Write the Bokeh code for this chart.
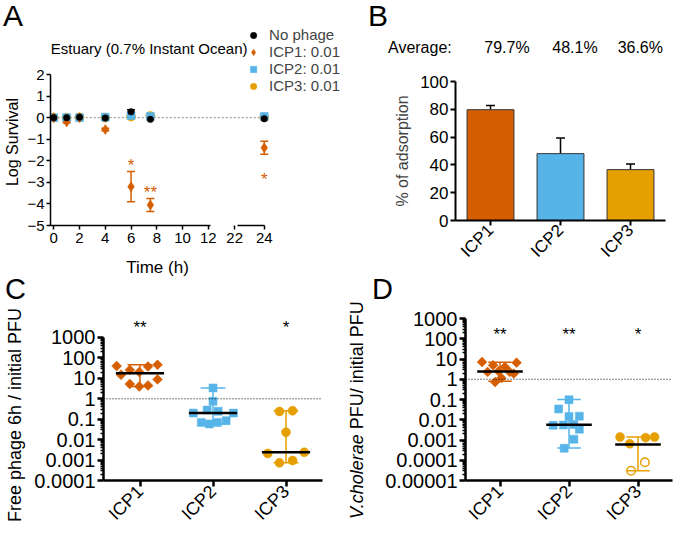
import math
from bokeh.plotting import figure
from bokeh.layouts import column, row
from bokeh.models import (ColumnDataSource, Range1d, FactorRange, FixedTicker,
                          CustomJSTickFormatter, Label, Legend, LegendItem, Span,
                          Whisker, TeeHead, Div)
from bokeh.core.properties import value
from bokeh.embed import file_html
from bokeh.resources import INLINE

FONT = "Liberation Sans"
COL_NOPHAGE = "#000000"
COL_ICP1 = "#D55E00"
COL_ICP2 = "#56B4E9"
COL_ICP3 = "#E69F00"

# ---------------- Panel A data: log survival over time ----------------
a_time = [0, 1, 2, 4, 6, 7.5, 24]
a_nophage = [0.0, 0.0, 0.02, -0.02, 0.27, -0.08, -0.05]
a_nophage_err = [0.0, 0.0, 0.0, 0.0, 0.1, 0.0, 0.0]
a_icp1 = [0.0, -0.2, 0.0, -0.55, -3.2, -4.05, -1.4]
a_icp1_err = [0.0, 0.05, 0.0, 0.06, 0.7, 0.3, 0.3]
a_icp2 = [0.0, 0.0, 0.0, 0.02, 0.1, 0.05, 0.05]
a_icp3 = [0.0, 0.0, 0.02, 0.0, 0.05, 0.08, 0.02]
a_legend_labels = ["No phage", "ICP1: 0.01", "ICP2: 0.01", "ICP3: 0.01"]
a_star_time = [6, 7.5, 24]
a_star_text = ["*", "**", "*"]
a_star_ypos = [-2.2, -3.45, -2.85]
a_xticks_early = [0, 2, 4, 6, 8, 10, 12]
a_xticks_late = [22, 24]
a_yticks = [-5, -4, -3, -2, -1, 0, 1, 2]

# ---------------- Panel B data: adsorption ----------------
b_phages = ["ICP1", "ICP2", "ICP3"]
b_mean = [79.7, 48.1, 36.6]
b_upper = [82.7, 59.3, 40.6]
b_avg_text = ["79.7%", "48.1%", "36.6%"]
b_yticks = [0, 20, 40, 60, 80, 100]

# ---------------- Panel C data: free phage 6h / initial PFU ----------------
c_icp1 = [40, 26, 38, 46, 15, 20.5, 5.3, 4.0, 4.5, 8.9]
c_icp2 = [3.4, 0.75, 0.2, 0.28, 0.245, 0.2, 0.07, 0.059, 0.07, 0.085]
c_icp3 = [0.24, 0.26, 0.023, 0.0021, 0.0024, 0.00073, 0.00095]
c_median = [17.75, 0.2, 0.0024]
c_low = [4.0, 0.059, 0.00073]
c_high = [46, 3.4, 0.26]
c_stars = ["**", "", "*"]
c_yticks = [1e-4, 1e-3, 1e-2, 0.1, 1, 10, 100, 1000]
c_icp1_jit = [-0.32, -0.14, 0.11, 0.24, -0.26, -0.01, -0.14, -0.01, 0.11, 0.24]
c_icp2_jit = [0.0, 0.0, -0.27, -0.08, 0.07, 0.28, -0.16, -0.05, 0.06, 0.18]
c_icp3_jit = [-0.09, 0.09, 0.0, -0.25, 0.25, -0.09, 0.09]
c_star_ypos = 3100

# ---------------- Panel D data: V. cholerae PFU / initial PFU ----------------
d_icp1 = [7.1, 6.6, 4.9, 4.0, 2.3, 2.3, 2.5, 1.9, 1.15, 0.73]
d_icp2 = [0.098, 0.034, 0.0145, 0.015, 0.0053, 0.0055, 0.0058, 0.0034, 0.0011, 0.00039]
d_icp3 = [0.0014, 0.0013, 0.0014, 0.00065]
d_icp3_open = [0.00008, 0.00003]
d_median = [2.4, 0.0056, 0.0006]
d_low = [0.8, 0.0004, 0.00003]
d_high = [6.9, 0.1, 0.0014]
d_stars = ["**", "**", "*"]
d_yticks = [1e-5, 1e-4, 1e-3, 1e-2, 0.1, 1, 10, 100, 1000]
d_icp1_jit = [-0.26, 0.24, -0.1, 0.07, -0.18, 0.14, -0.02, 0.2, 0.02, -0.07]
d_icp2_jit = [0.0, -0.15, 0.0, 0.15, -0.23, -0.08, 0.07, 0.15, 0.07, -0.07]
d_icp3_jit = [-0.26, 0.11, 0.24, -0.12]
d_icp3_open_jit = [0.1, -0.1]
d_star_ypos = 162


# ---------------- helpers ----------------
def make_fig(w, h, bl, br, bt, bb, **kw):
    p = figure(width=w, height=h, min_border_left=bl, min_border_right=br,
               min_border_top=bt, min_border_bottom=bb, output_backend="svg",
               toolbar_location=None, **kw)
    p.background_fill_color = "white"
    p.border_fill_color = "white"
    p.outline_line_color = None
    p.grid.visible = False
    return p


ASC = 0.846  # baseline position inside a line box of line-height 1 (Liberation Sans)


def htext(x, baseline, text, size, align="left", style=""):
    top = baseline - ASC * size
    shift = {"left": "0", "center": "-50%", "right": "-100%"}[align]
    return (f'<span style="position:absolute;left:{x}px;top:{top:.1f}px;'
            f'transform:translateX({shift});white-space:nowrap;line-height:1;'
            f"font-family:'{FONT}';font-size:{size}px;color:#000;{style}\">{text}</span>")


def vtext(cx, cy, text, size):
    return (f'<span style="position:absolute;left:{cx}px;top:{cy}px;'
            f'transform:translate(-50%,-50%) rotate(-90deg);white-space:nowrap;line-height:1;'
            f"font-family:'{FONT}';font-size:{size}px;color:#000;\">{text}</span>")


def text_div(w, h, spans):
    html = (f'<div style="position:relative;width:{w}px;height:{h}px;">'
            + "".join(spans) + "</div>")
    return Div(text=html, width=w, height=h, margin=0)


def style_axes(p, font_size, line_w, tick_out, tick_w):
    for ax in p.axis:
        ax.axis_line_width = line_w
        ax.axis_line_color = "black"
        ax.major_tick_line_width = tick_w
        ax.major_tick_line_color = "black"
        ax.major_tick_out = tick_out
        ax.major_tick_in = 0
        ax.minor_tick_line_color = None
        ax.major_label_text_font = FONT
        ax.major_label_text_font_size = font_size
        ax.major_label_text_color = "black"
        ax.major_label_standoff = 2


# ================= Panel A =================
A_TOP_H = 26
A_YLAB_W = 24
A_MAIN_W, A_MAIN_H = 316, 232
A_BOT_H = 19
A_BL, A_BR, A_BT, A_BB = 22, 0, 0, 33
a_frame_w = A_MAIN_W - A_BL - A_BR
PX_EARLY = 13.06          # px per hour on the 0-12 h part
PX_LATE = 15.0            # px per hour on the 22-24 h part
a_x0 = -0.253
a_x1 = a_x0 + a_frame_w / PX_EARLY
LATE_START_PX = 186.7     # where 22 h sits, from the frame's left edge
a_l0 = a_xticks_late[0] - LATE_START_PX / PX_LATE
a_l1 = a_l0 + a_frame_w / PX_LATE
PX_Y = 21.57
a_y1 = a_yticks[-1] + 48 / PX_Y   # room above the axis for title and legend
a_y0 = a_yticks[0]


def early_coord(v):
    return a_x0 + (v - a_l0) * PX_LATE / PX_EARLY


pA = make_fig(A_MAIN_W, A_MAIN_H, A_BL, A_BR, A_BT, A_BB,
              x_range=Range1d(a_x0, a_x1), y_range=Range1d(a_y0, a_y1))
pA.extra_x_ranges = {"late": Range1d(a_l0, a_l1)}

pA.segment(x0=[a_time[0]], y0=[0], x1=[early_coord(a_time[-1])], y1=[0],
           line_color="#8a8a8a", line_dash="2 2", line_width=1)

idx_e = [i for i, t in enumerate(a_time) if t <= a_xticks_early[-1]]
idx_l = [i for i, t in enumerate(a_time) if t >= a_xticks_late[0]]


def pick(arr, idx):
    return [arr[i] for i in idx]


series = [
    ("ICP3: 0.01", a_icp3, None, COL_ICP3, "circle", 9),
    ("ICP2: 0.01", a_icp2, None, COL_ICP2, "square", 8),
    ("ICP1: 0.01", a_icp1, a_icp1_err, COL_ICP1, "diamond", 10),
    ("No phage", a_nophage, a_nophage_err, COL_NOPHAGE, "circle", 6.5),
]
legend_renderers = {}
for label, vals, err, color, marker, size in series:
    for idx, rname in ((idx_e, "default"), (idx_l, "late")):
        ts = pick(a_time, idx)
        ys = pick(vals, idx)
        if err is not None:
            e = pick(err, idx)
            wsrc = ColumnDataSource(dict(t=[t for t, ee in zip(ts, e) if ee > 0],
                                         lo=[y - ee for y, ee in zip(ys, e) if ee > 0],
                                         hi=[y + ee for y, ee in zip(ys, e) if ee > 0]))
            pA.add_layout(Whisker(source=wsrc, base="t", lower="lo", upper="hi",
                                  x_range_name=rname, line_color=color, line_width=1.5,
                                  lower_head=TeeHead(size=8, line_color=color, line_width=1.5),
                                  upper_head=TeeHead(size=8, line_color=color, line_width=1.5)))
        src = ColumnDataSource(dict(t=ts, y=ys))
        r = pA.scatter(x="t", y="y", source=src, marker=marker, size=size,
                       fill_color=color, line_color=color, line_width=0.5,
                       x_range_name=rname)
        if rname == "default":
            legend_renderers[label] = r

for idx, rname in ((idx_e, "default"), (idx_l, "late")):
    sel = [i for i, t in enumerate(a_star_time)
           if (t <= a_xticks_early[-1]) == (rname == "default")]
    ssrc = ColumnDataSource(dict(t=[a_star_time[i] for i in sel],
                                 y=[a_star_ypos[i] for i in sel],
                                 s=[a_star_text[i] for i in sel]))
    pA.text(x="t", y="y", text="s", source=ssrc, x_range_name=rname,
            text_font=value(FONT), text_font_size="17px", text_color=COL_ICP1,
            text_align="center", text_baseline="middle")

style_axes(pA, "15px", 1.5, 4, 1.5)
late_pos = [early_coord(v) for v in a_xticks_late]
xa = pA.xaxis[0]
xa.ticker = FixedTicker(ticks=a_xticks_early + late_pos)
xa.formatter = CustomJSTickFormatter(
    args=dict(pos=late_pos, lab=[str(v) for v in a_xticks_late]),
    code="""
for (let i = 0; i < pos.length; i++) { if (Math.abs(tick - pos[i]) < 1e-6) { return lab[i]; } }
return String(Math.round(tick));
""")
xa.bounds = (a_x0, late_pos[-1])
d1 = round((a_xticks_early[-1] - a_x0) * PX_EARLY)
gap = round((late_pos[0] - a_xticks_early[-1]) * PX_EARLY)
d2 = round((late_pos[-1] - late_pos[0]) * PX_EARLY) + 2
xa.axis_line_dash = f"{d1} {gap} {d2} 1000"
xa.major_label_standoff = 3
ya = pA.yaxis[0]
ya.ticker = FixedTicker(ticks=a_yticks)
ya.bounds = (a_yticks[0], a_yticks[-1])

legend = Legend(items=[LegendItem(label=lab, renderers=[legend_renderers[lab]])
                       for lab in a_legend_labels],
                location="top_right", background_fill_alpha=0, border_line_color=None,
                label_text_font=FONT, label_text_font_size="15px", glyph_width=20,
                glyph_height=16, label_height=16, spacing=0, padding=0, margin=0,
                label_standoff=6)
pA.add_layout(legend)
pA.add_layout(Label(x=a_x0 + (146 - 46) / PX_EARLY, y=a_y1 - 22 / PX_Y,
                    text="Estuary (0.7% Instant Ocean)", text_font=FONT,
                    text_font_size="15px", text_color="black", text_align="center",
                    text_baseline="alphabetic"))

dA = text_div(A_YLAB_W + A_MAIN_W, A_TOP_H, [htext(3, 26, "A", 30)])
dAy = text_div(A_YLAB_W, A_MAIN_H, [vtext(12.5, 116, "Log Survival", 16)])
dAb = text_div(A_YLAB_W + A_MAIN_W, A_BOT_H, [htext(157.5, 15, "Time (h)", 17, "center")])
colA = column(dA, row(dAy, pA), dAb)

# ================= Panel B =================
B_W = 336
dB = text_div(B_W, 60, [
    htext(28, 26, "B", 30),
    htext(48, 53, "Average:", 16),
    htext(167, 53, b_avg_text[0], 16, "center"),
    htext(235, 53, b_avg_text[1], 16, "center"),
    htext(323, 53, b_avg_text[2], 16, "right"),
])

pB = make_fig(B_W, 217, 115, 11, 21, 57,
              x_range=FactorRange(factors=b_phages), y_range=Range1d(0, 100))
srcB = ColumnDataSource(dict(phage=b_phages, mean=b_mean, upper=b_upper,
                             color=[COL_ICP1, COL_ICP2, COL_ICP3]))
pB.add_layout(Whisker(source=srcB, base="phage", lower="mean", upper="upper",
                      line_color="black", line_width=1.5, lower_head=None,
                      upper_head=TeeHead(size=9, line_color="black", line_width=1.5)))
pB.vbar(x="phage", top="mean", bottom=0, width=0.67, source=srcB,
        fill_color="color", line_color="#333333", line_width=1)
style_axes(pB, "17px", 2, 5, 2)
pB.yaxis[0].ticker = FixedTicker(ticks=b_yticks)
pB.yaxis[0].axis_label = "% of adsorption"
pB.yaxis[0].axis_label_text_font = FONT
pB.yaxis[0].axis_label_text_font_size = "16px"
pB.yaxis[0].axis_label_text_font_style = "normal"
pB.yaxis[0].axis_label_standoff = 6
pB.xaxis[0].major_label_orientation = math.pi / 4

colB = column(dB, pB)


# ================= Panels C & D helpers =================
def scatter_group(p, factor, vals, jit, color, marker, size, angle=0.0, open_=False):
    src = ColumnDataSource(dict(x=[(factor, j) for j in jit], y=vals))
    p.scatter(x="x", y="y", source=src, marker=marker, size=size, angle=angle,
              fill_color="white" if open_ else color, line_color=color,
              line_width=1.5 if open_ else 0.5)


def summary(p, factors, med, lo, hi, colors):
    src = ColumnDataSource(dict(
        xc=factors, lo=lo, hi=hi, med=med,
        capl=[(f, -0.17) for f in factors], capr=[(f, 0.17) for f in factors],
        medl=[(f, -0.33) for f in factors], medr=[(f, 0.33) for f in factors],
        color=colors))
    p.segment(x0="xc", y0="lo", x1="xc", y1="hi", line_color="color", line_width=1.5, source=src)
    p.segment(x0="capl", y0="hi", x1="capr", y1="hi", line_color="color", line_width=1.5, source=src)
    p.segment(x0="capl", y0="lo", x1="capr", y1="lo", line_color="color", line_width=1.5, source=src)
    p.segment(x0="medl", y0="med", x1="medr", y1="med", line_color="black", line_width=2.5, source=src)


def stars(p, factors, texts, ypos):
    sel = [i for i, t in enumerate(texts) if t]
    src = ColumnDataSource(dict(x=[factors[i] for i in sel], y=[ypos] * len(sel),
                                s=[texts[i] for i in sel]))
    p.text(x="x", y="y", text="s", source=src, text_font=value(FONT),
           text_font_size="17px", text_color="black", text_align="center",
           text_baseline="middle")


def log_axes(p, yticks, minor):
    style_axes(p, "20px", 2.5, 6, 2.5)
    ya = p.yaxis[0]
    ya.ticker = FixedTicker(ticks=yticks, minor_ticks=minor)
    ya.formatter = CustomJSTickFormatter(code="return Number(tick.toPrecision(3)).toString();")
    ya.minor_tick_line_color = "black"
    ya.minor_tick_line_width = 1.5
    ya.minor_tick_out = 3
    ya.minor_tick_in = 0
    ya.bounds = (yticks[0], yticks[-1])
    p.xaxis[0].major_label_orientation = math.pi / 4
    p.xaxis[0].major_label_text_font_size = "18px"


def minor_log(lo_exp, hi_exp):
    return [m * 10.0 ** k for k in range(lo_exp, hi_exp) for m in range(2, 10)]


ROW2_TOP_H = 23
ROW2_MAIN_H = 237

# ================= Panel C =================
PX_DEC_C = 20.43
dC = text_div(340, ROW2_TOP_H, [htext(5, 22, "C", 29)])
dCy = text_div(30, ROW2_MAIN_H, [vtext(15, 115, "Free phage 6h / initial PFU", 18)])
pC = make_fig(310, ROW2_MAIN_H, 73, 18, 10, 57, x_range=FactorRange(factors=b_phages),
              y_range=Range1d(c_yticks[0], c_yticks[-1] * 10 ** (27 / PX_DEC_C)),
              y_axis_type="log")
pC.add_layout(Span(location=1, dimension="width", line_color="black",
                   line_dash="1 2", line_width=1))
scatter_group(pC, "ICP1", c_icp1, c_icp1_jit, COL_ICP1, "square", 7, math.pi / 4)
scatter_group(pC, "ICP2", c_icp2, c_icp2_jit, COL_ICP2, "square", 8)
scatter_group(pC, "ICP3", c_icp3, c_icp3_jit, COL_ICP3, "circle", 9)
summary(pC, b_phages, c_median, c_low, c_high, [COL_ICP1, COL_ICP2, COL_ICP3])
stars(pC, b_phages, c_stars, c_star_ypos)
log_axes(pC, c_yticks, minor_log(-4, 3))

colC = column(dC, row(dCy, pC))

# ================= Panel D =================
dD = text_div(336, ROW2_TOP_H, [htext(32, 22, "D", 29)])
dDy = text_div(35, ROW2_MAIN_H, [vtext(17, 110, "<i>V.cholerae</i> PFU/ initial PFU", 18)])
pD = make_fig(301, ROW2_MAIN_H, 90, 4, 18, 57, x_range=FactorRange(factors=b_phages),
              y_range=Range1d(d_yticks[0], d_yticks[-1]), y_axis_type="log")
pD.add_layout(Span(location=1, dimension="width", line_color="black",
                   line_dash="1 2", line_width=1))
scatter_group(pD, "ICP1", d_icp1, d_icp1_jit, COL_ICP1, "square", 7, math.pi / 4)
scatter_group(pD, "ICP2", d_icp2, d_icp2_jit, COL_ICP2, "square", 8)
scatter_group(pD, "ICP3", d_icp3, d_icp3_jit, COL_ICP3, "circle", 9)
scatter_group(pD, "ICP3", d_icp3_open, d_icp3_open_jit, COL_ICP3, "circle", 8.5, open_=True)
summary(pD, b_phages, d_median, d_low, d_high, [COL_ICP1, COL_ICP2, COL_ICP3])
stars(pD, b_phages, d_stars, d_star_ypos)
log_axes(pD, d_yticks, minor_log(-5, 3))

colD = column(dD, row(dDy, pD))

layout = column(row(colA, colB), row(colC, colD))
open("out.html", "w").write(file_html(layout, INLINE))
